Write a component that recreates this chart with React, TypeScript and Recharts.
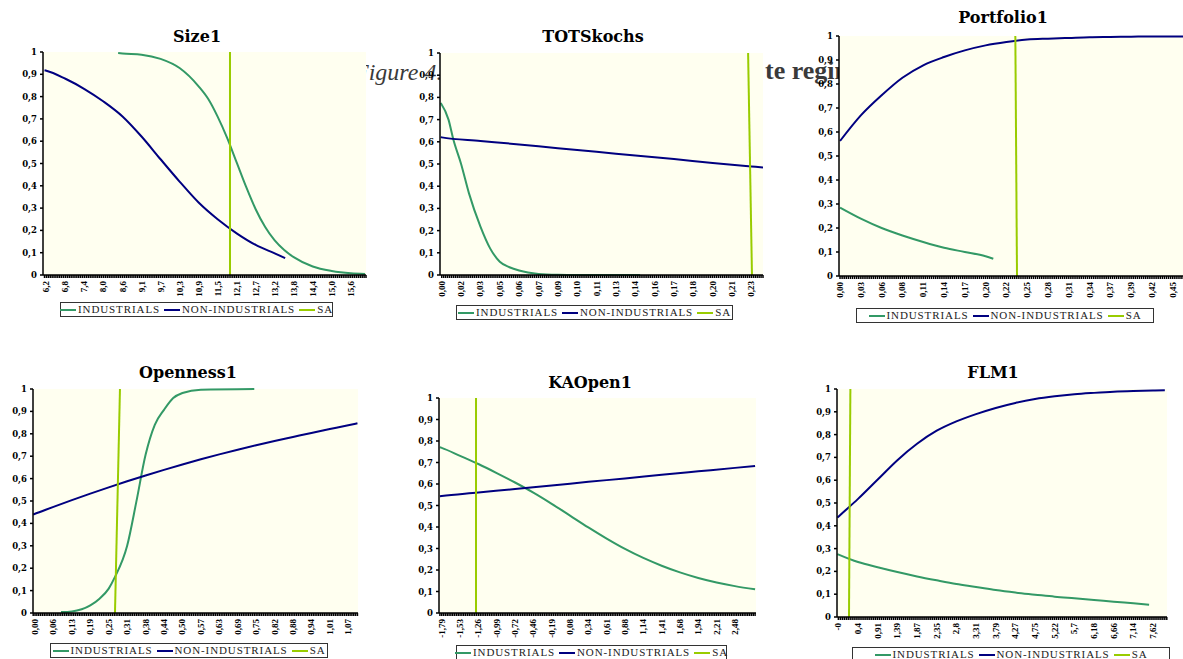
import React from 'react';
import { LineChart, Line, XAxis, YAxis, CartesianGrid } from 'recharts';

// colours taken from the Excel-style original
const GREEN = '#339966';
const NAVY = '#000080';
const LIME = '#99cc00';
const PLOT_BG = '#fffff0';

const seriesNames = ['INDUSTRIALS', 'NON-INDUSTRIALS', 'SA'];
const yTicks = [0, 0.1, 0.2, 0.3, 0.4, 0.5, 0.6, 0.7, 0.8, 0.9, 1];
const yLabels = ['0', '0,1', '0,2', '0,3', '0,4', '0,5', '0,6', '0,7', '0,8', '0,9', '1'];

// x positions are in "label slots" (0 = first category label)
type Pt = [number, number];

// ---- Size1
const size1Labels = ['6,2', '6,8', '7,4', '8,0', '8,6', '9,1', '9,7', '10,3', '10,9', '11,5', '12,1', '12,7', '13,2', '13,8', '14,4', '15,0', '15,6'];
const size1Ind: Pt[] = [[3.77, 0.995], [4, 0.993], [5, 0.988], [6, 0.969], [7, 0.928], [8, 0.846], [8.5, 0.79], [9, 0.71], [9.5, 0.615], [10, 0.505], [10.5, 0.395], [11, 0.295], [11.5, 0.215], [12, 0.155], [12.5, 0.112], [13, 0.08], [14, 0.038], [15, 0.018], [16, 0.008], [16.75, 0.005]];
const size1Non: Pt[] = [[-0.1, 0.918], [0, 0.916], [1, 0.88], [2, 0.834], [3, 0.778], [4, 0.711], [5, 0.621], [6, 0.519], [7, 0.419], [8, 0.325], [9, 0.25], [10, 0.187], [11, 0.135], [12, 0.097], [12.55, 0.076]];
const size1Sa: Pt[] = [[9.65, 0], [9.65, 1]];

// ---- TOTSkochs
const totsLabels = ['0,00', '0,02', '0,03', '0,05', '0,06', '0,07', '0,09', '0,10', '0,11', '0,13', '0,14', '0,16', '0,17', '0,18', '0,20', '0,21', '0,23'];
const totsInd: Pt[] = [[-0.05, 0.775], [0.35, 0.7], [0.6, 0.61], [1, 0.5], [1.4, 0.37], [2, 0.218], [2.5, 0.12], [3, 0.06], [3.5, 0.035], [4, 0.02], [5, 0.005], [6, 0.001], [7, 0], [8, 0], [9, 0], [10.25, 0]];
const totsNon: Pt[] = [[-0.05, 0.621], [0, 0.62], [2, 0.604], [4, 0.588], [6, 0.571], [8, 0.555], [10, 0.538], [12, 0.522], [14, 0.505], [16, 0.489], [16.6, 0.484]];
const totsSa: Pt[] = [[16.03, 0], [15.83, 1]];

// ---- Portfolio1
const portLabels = ['0,00', '0,03', '0,06', '0,08', '0,11', '0,14', '0,17', '0,20', '0,22', '0,25', '0,28', '0,31', '0,34', '0,37', '0,39', '0,42', '0,45'];
const portInd: Pt[] = [[0, 0.285], [1, 0.239], [2, 0.2], [3, 0.169], [4, 0.142], [5, 0.118], [6, 0.1], [7, 0.082], [7.37, 0.072]];
const portNon: Pt[] = [[0, 0.5625], [1, 0.669], [2, 0.753], [3, 0.826], [4, 0.878], [5, 0.9125], [6, 0.94], [7, 0.961], [8, 0.975], [9, 0.985], [10, 0.989], [11, 0.992], [12, 0.995], [13, 0.996], [14, 0.997], [15, 0.998], [16, 0.998], [17, 0.999]];
const portSa: Pt[] = [[8.51, 0], [8.43, 1]];

// ---- Openness1
const openLabels = ['0,00', '0,06', '0,13', '0,19', '0,25', '0,31', '0,38', '0,44', '0,50', '0,57', '0,63', '0,69', '0,75', '0,82', '0,88', '0,94', '1,01', '1,07'];
const openInd: Pt[] = [[1.41, 0.004], [2, 0.007], [3, 0.034], [3.5, 0.064], [4, 0.109], [4.34, 0.161], [5, 0.3], [5.5, 0.497], [6, 0.706], [6.5, 0.84], [7, 0.907], [7.5, 0.96], [8, 0.982], [9, 0.997], [11.9, 1]];
const openNon: Pt[] = [[-0.1, 0.44], [0, 0.443], [1, 0.474], [2, 0.504], [3, 0.533], [4, 0.561], [5, 0.588], [6, 0.614], [7, 0.639], [8, 0.663], [9, 0.686], [10, 0.708], [11, 0.729], [12, 0.749], [13, 0.768], [14, 0.786], [15, 0.804], [16, 0.821], [17, 0.838], [17.5, 0.847]];
const openSa: Pt[] = [[4.34, 0], [4.61, 1]];

// ---- KAOpen1
const kaLabels = ['-1,79', '-1,53', '-1,26', '-0,99', '-0,72', '-0,46', '-0,19', '0,08', '0,34', '0,61', '0,88', '1,14', '1,41', '1,68', '1,94', '2,21', '2,48'];
const kaInd: Pt[] = [[-0.1, 0.771], [0, 0.768], [1, 0.731], [2, 0.693], [3, 0.651], [4, 0.607], [5, 0.56], [6, 0.508], [7, 0.453], [8, 0.398], [9, 0.346], [10, 0.298], [11, 0.256], [12, 0.22], [13, 0.189], [14, 0.163], [15, 0.142], [16, 0.125], [17.1, 0.11]];
const kaNon: Pt[] = [[-0.1, 0.543], [0, 0.544], [2, 0.56], [4, 0.577], [6, 0.593], [8, 0.61], [10, 0.626], [12, 0.643], [14, 0.659], [16, 0.675], [17.1, 0.684]];
const kaSa: Pt[] = [[1.87, 0], [1.87, 1]];

// ---- FLM1
const flmLabels = ['-0', '0,4', '0,91', '1,39', '1,87', '2,35', '2,8', '3,31', '3,79', '4,27', '4,75', '5,22', '5,7', '6,18', '6,66', '7,14', '7,62'];
const flmInd: Pt[] = [[-0.05, 0.276], [1, 0.241], [2, 0.218], [3, 0.197], [4, 0.178], [5, 0.161], [6, 0.145], [7, 0.132], [8, 0.118], [9, 0.107], [10, 0.098], [11, 0.089], [12, 0.082], [13, 0.075], [14, 0.067], [15, 0.06], [15.8, 0.054]];
const flmNon: Pt[] = [[-0.05, 0.436], [0, 0.44], [1, 0.518], [2, 0.603], [3, 0.688], [4, 0.76], [5, 0.817], [6, 0.858], [7, 0.89], [8, 0.917], [9, 0.939], [10, 0.956], [11, 0.968], [12, 0.977], [13, 0.983], [14, 0.988], [15, 0.991], [16, 0.993], [16.6, 0.994]];
const flmSa: Pt[] = [[0.54, 0], [0.61, 1]];

const toRows = (pts: Pt[]) => pts.map(([x, p]) => ({ x, p }));

const panels = [
  { title: 'Size1', tx: 197, ty: 37, box: [43, 52, 366, 275], domain: [-0.18, 16.8], labels: size1Labels, ind: size1Ind, non: size1Non, sa: size1Sa, legend: [60, 302, 273] },
  { title: 'TOTSkochs', tx: 593, ty: 37, box: [440, 53, 763, 275], domain: [-0.09, 16.6], labels: totsLabels, ind: totsInd, non: totsNon, sa: totsSa, legend: [456, 305, 277] },
  { title: 'Portfolio1', tx: 1003, ty: 18, box: [839, 36, 1195, 276], domain: [-0.05, 17.07], labels: portLabels, ind: portInd, non: portNon, sa: portSa, legend: [856, 308, 298] },
  { title: 'Openness1', tx: 188, ty: 373, box: [33, 389, 358, 613], domain: [-0.11, 17.53], labels: openLabels, ind: openInd, non: openNon, sa: openSa, legend: [50, 643, 278] },
  { title: 'KAOpen1', tx: 590, ty: 383, box: [439, 398, 756, 613], domain: [-0.15, 17.15], labels: kaLabels, ind: kaInd, non: kaNon, sa: kaSa, legend: [456, 645, 271] },
  { title: 'FLM1', tx: 993, ty: 373, box: [837, 389, 1167, 617], domain: [-0.07, 16.71], labels: flmLabels, ind: flmInd, non: flmNon, sa: flmSa, legend: [852, 647, 318] },
];

const ML = 40;
const MT = 6;
const MR = 4;
const XH = 30;

const renderXTick = (props: any, labels: string[]) => {
  const { x, y, payload } = props;
  const v = payload.value;
  const r = Math.round(v);
  if (Math.abs(v - r) > 1e-6 || r < 0 || r >= labels.length) return <g />;
  return (
    <text
      x={x}
      y={y + 1}
      transform={`rotate(-90, ${x}, ${y + 1})`}
      textAnchor="end"
      dominantBaseline="central"
      fontFamily="'Liberation Serif', serif"
      fontWeight={700}
      fontSize={9}
      fill="#000"
    >
      {labels[r]}
    </text>
  );
};

const LegendBox = ({ x, y, w }: { x: number; y: number; w: number }) => {
  const colors = [GREEN, NAVY, LIME];
  return (
    <div
      style={{
        position: 'absolute', left: x, top: y, width: w, height: 15, boxSizing: 'border-box',
        border: '1px solid #333', background: '#fff', display: 'flex', alignItems: 'center',
        justifyContent: 'center', gap: 4, fontFamily: "'Liberation Serif', serif", fontSize: 11,
        letterSpacing: 0.9, color: '#222', whiteSpace: 'nowrap', lineHeight: '13px',
      }}
    >
      {seriesNames.map((n, i) => (
        <span key={n} style={{ display: 'flex', alignItems: 'center' }}>
          <span style={{ display: 'inline-block', width: 16, height: 2, background: colors[i], marginRight: 2 }} />
          {n}
        </span>
      ))}
    </div>
  );
};

const Panel = ({ cfg }: { cfg: any }) => {
  const [x0, y0, x1, y1] = cfg.box;
  const w = x1 - x0 + ML + MR;
  const h = y1 - y0 + MT + XH;
  const ticks: number[] = [];
  for (let k = Math.ceil(cfg.domain[0] * 10); k <= Math.floor(cfg.domain[1] * 10); k++) ticks.push(k / 10);
  return (
    <>
      <div
        style={{
          position: 'absolute', left: cfg.tx - 100, top: cfg.ty - 11, width: 200, height: 22,
          lineHeight: '22px', textAlign: 'center', fontFamily: "'DejaVu Serif', serif",
          fontWeight: 700, fontSize: 16, color: '#000',
        }}
      >
        {cfg.title}
      </div>
      <div style={{ position: 'absolute', left: x0 - ML, top: y0 - MT }}>
        <LineChart width={w} height={h} margin={{ top: MT, right: MR, bottom: 0, left: 0 }}>
          <CartesianGrid horizontal={false} vertical={false} fill={PLOT_BG} stroke="none" />
          <XAxis
            type="number"
            dataKey="x"
            domain={cfg.domain}
            allowDataOverflow
            ticks={ticks}
            interval={0}
            height={XH}
            tickSize={3}
            tickMargin={2}
            stroke="#000"
            strokeWidth={1.5}
            tick={(p: any) => renderXTick(p, cfg.labels)}
          />
          <YAxis
            type="number"
            domain={[0, 1]}
            ticks={yTicks}
            interval={0}
            width={ML}
            tickSize={3}
            tickMargin={3}
            stroke="#000"
            strokeWidth={1.5}
            tickFormatter={(v: number) => yLabels[Math.round(v * 10)]}
            tick={{ fontSize: 8.5, fontWeight: 700, fontFamily: "'DejaVu Serif', serif", fill: '#000' }}
          />
          <Line data={toRows(cfg.ind)} dataKey="p" name={seriesNames[0]} type="monotone" stroke={GREEN} strokeWidth={2} dot={false} isAnimationActive={false} />
          <Line data={toRows(cfg.non)} dataKey="p" name={seriesNames[1]} type="monotone" stroke={NAVY} strokeWidth={2} dot={false} isAnimationActive={false} />
          <Line data={toRows(cfg.sa)} dataKey="p" name={seriesNames[2]} type="linear" stroke={LIME} strokeWidth={2} dot={false} isAnimationActive={false} />
        </LineChart>
      </div>
      <LegendBox x={cfg.legend[0]} y={cfg.legend[1]} w={cfg.legend[2]} />
    </>
  );
};

export default function App() {
  return (
    <div style={{ position: 'absolute', left: 0, top: 0, width: 1183, height: 659, overflow: 'hidden', background: '#fff' }}>
      {/* caption of the source page, mostly hidden behind the plots */}
      <div style={{ position: 'absolute', left: 354, top: 60, fontFamily: "'Liberation Serif', serif", fontStyle: 'italic', fontSize: 24, lineHeight: '24px', color: '#3a3a3a', whiteSpace: 'nowrap' }}>
        Figure 4.
      </div>
      <div style={{ position: 'absolute', left: 765, top: 58, fontFamily: "'Liberation Serif', serif", fontWeight: 700, fontSize: 26, lineHeight: '26px', color: '#3a3a3a', whiteSpace: 'nowrap' }}>
        te regime
      </div>
      {panels.map((p) => (
        <Panel key={p.title} cfg={p} />
      ))}
    </div>
  );
}
